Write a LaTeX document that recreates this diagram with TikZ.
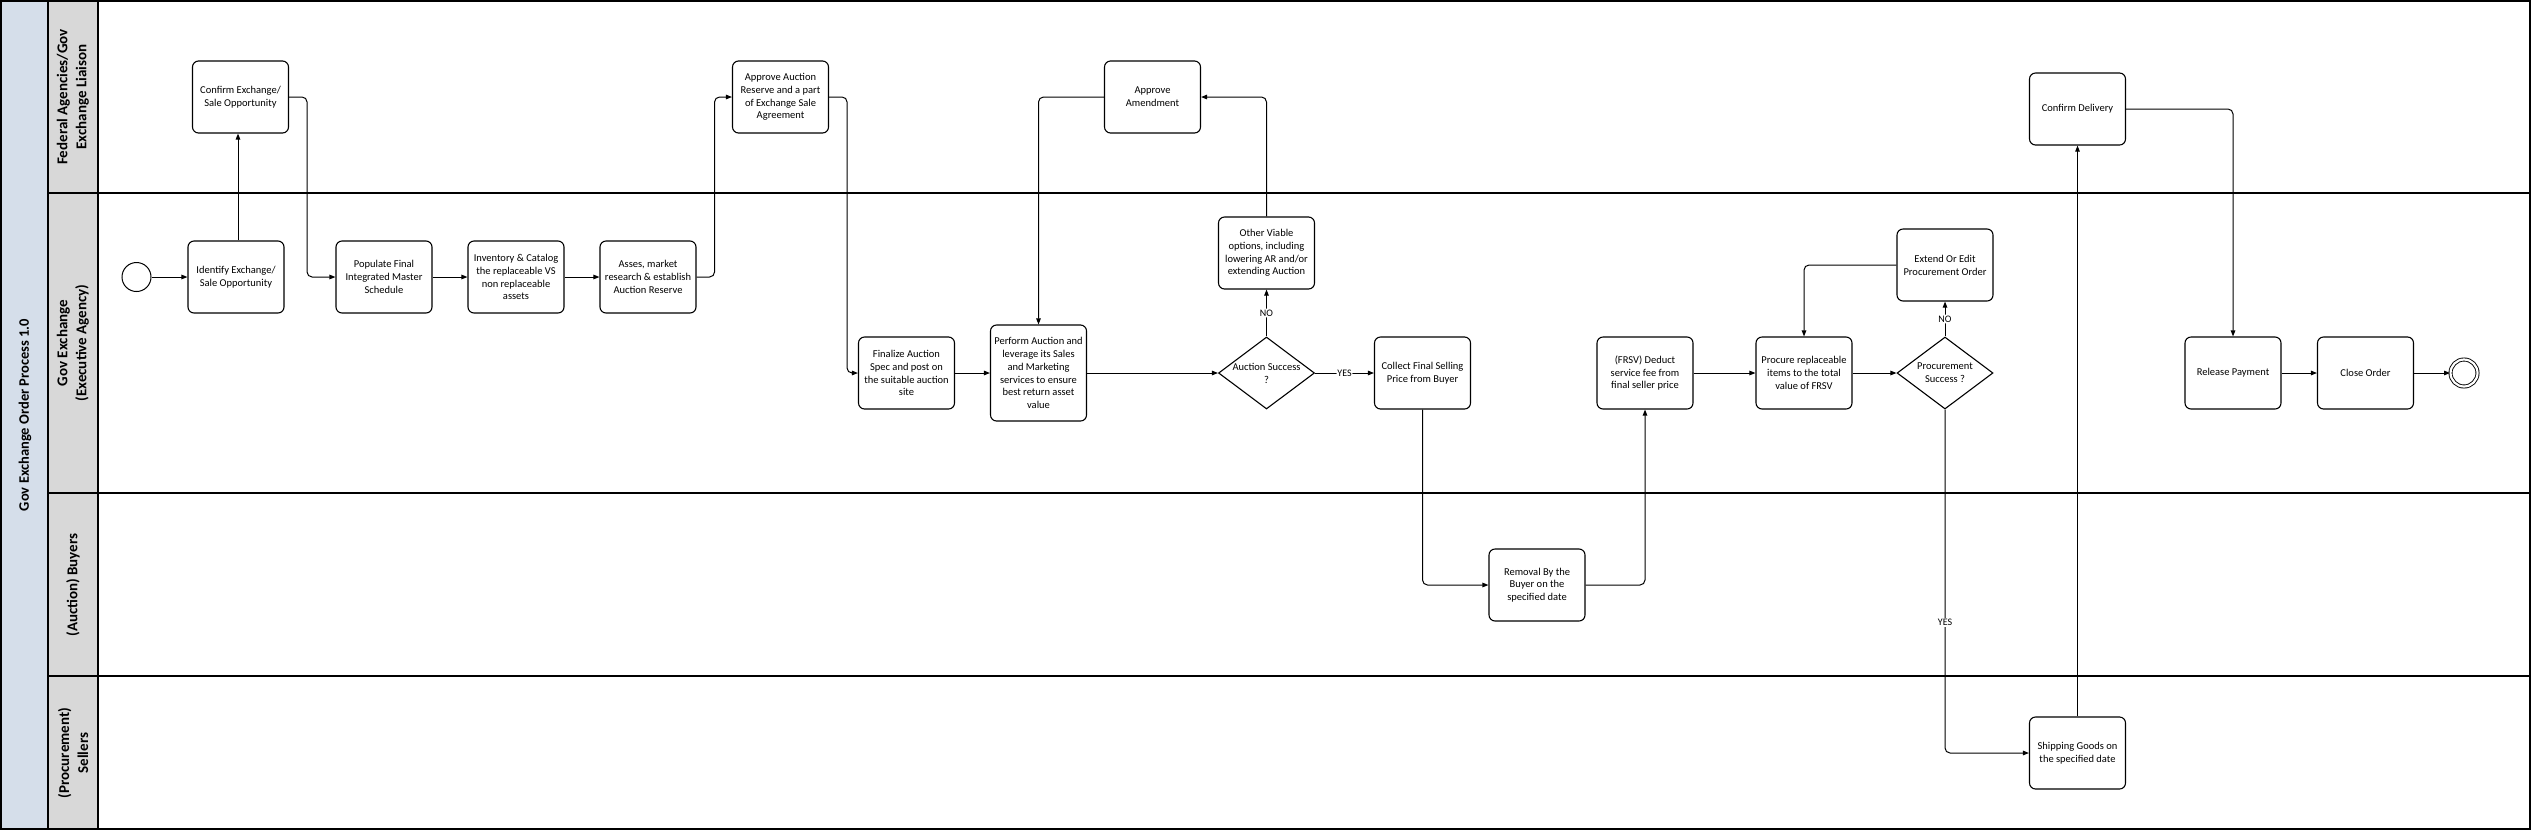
\documentclass[tikz,border=0pt]{standalone}
\usepackage{fontspec}
\setmainfont{Carlito}
\usetikzlibrary{arrows.meta,shapes.geometric,calc}
\definecolor{titleblue}{HTML}{D5DEEA}
\definecolor{hdrgrey}{HTML}{D8D8D8}
\begin{document}
\begin{tikzpicture}[x=1pt,y=-1pt,
  task/.style={draw, line width=1.1pt, rounded corners=6pt, minimum width=96pt, minimum height=72pt, align=center, inner sep=2pt, font=\fontsize{10.5}{12.8}\selectfont, fill=white},
  gate/.style={draw, diamond, line width=1.1pt, minimum width=96pt, minimum height=72pt, inner sep=0pt},
  gatetext/.style={align=center, font=\fontsize{10.5}{12.8}\selectfont, inner sep=0pt},
  flow/.style={line width=1pt, rounded corners=5pt, -{Triangle[length=6pt,width=4.5pt]}},
  lbl/.style={fill=white, inner sep=1pt, font=\fontsize{10}{12}\selectfont},
  lane/.style={line width=1.2pt},
  lanetext/.style={rotate=90, align=center, font=\fontsize{15}{19}\selectfont\bfseries},
]
\useasboundingbox (0,0) rectangle (2534,831);
% pool background
\fill[titleblue] (1,1) rectangle (48,829);
\fill[hdrgrey] (48,1) rectangle (98,829);
\draw[lane] (1,1) rectangle (2530,829);
\draw[lane] (48,1) -- (48,829);
\draw[lane] (98,1) -- (98,829);
\draw[lane] (48,193) -- (2530,193);
\draw[lane] (48,493) -- (2530,493);
\draw[lane] (48,676) -- (2530,676);
% titles
\node[lanetext, font=\fontsize{14.5}{18}\selectfont\bfseries] (pooltitle) at (25,415) {Gov Exchange Order Process 1.0};
\node[lanetext] (l1) at (73,97) {Federal Agencies/Gov\\Exchange Liaison};
\node[lanetext] (l2) at (73,343) {Gov Exchange\\(Executive Agency)};
\node[lanetext] (l3) at (73,585) {(Auction) Buyers};
\node[lanetext] (l4) at (73,753) {(Procurement)\\Sellers};
% nodes
\node[circle, draw, line width=1pt, minimum size=29pt, inner sep=0pt] (start) at (136.5,277) {};
\node[task] (ident) at (236,277) {Identify Exchange/\\Sale Opportunity};
\node[task] (conf) at (240.5,97) {Confirm Exchange/\\Sale Opportunity};
\node[task] (pop) at (384,277) {Populate Final\\Integrated Master\\Schedule};
\node[task] (inv) at (516,277) {Inventory \& Catalog\\the replaceable VS\\non replaceable\\assets};
\node[task] (asses) at (648,277) {Asses, market\\research \& establish\\Auction Reserve};
\node[task] (aar) at (780.5,97) {Approve Auction\\Reserve and a part\\of Exchange Sale\\Agreement};
\node[task] (fin) at (906.5,373) {Finalize Auction\\Spec and post on\\the suitable auction\\site};
\node[task, minimum height=96pt] (perf) at (1038.5,373) {Perform Auction and\\leverage its Sales\\and Marketing\\services to ensure\\best return asset\\value};
\node[task] (amend) at (1152.5,97) {Approve\\Amendment};
\node[task] (ovo) at (1266.5,253) {Other Viable\\options, including\\lowering AR and/or\\extending Auction};
\node[gate] (d1) at (1266.5,373) {};
\node[gatetext] (d1t) at (1266.5,373) {Auction Success\\?};
\node[task] (coll) at (1422.5,373) {Collect Final Selling\\Price from Buyer};
\node[task] (rem) at (1537,585) {Removal By the\\Buyer on the\\specified date};
\node[task] (frsv) at (1645,373) {(FRSV) Deduct\\service fee from\\final seller price};
\node[task] (proc) at (1804,373) {Procure replaceable\\items to the total\\value of FRSV};
\node[gate] (d2) at (1945,373) {};
\node[gatetext] (d2t) at (1945,373) {Procurement\\Success ?};
\node[task] (ext) at (1945,265) {Extend Or Edit\\Procurement Order};
\node[task] (cdel) at (2077.5,109) {Confirm Delivery};
\node[task] (ship) at (2077.5,753) {Shipping Goods on\\the specified date};
\node[task] (rel) at (2233,373) {Release Payment};
\node[task] (close) at (2365.5,373) {Close Order};
\node[circle, draw, double, double distance=2.2pt, line width=0.9pt, minimum size=27pt, inner sep=0pt] (end) at (2464,373) {};
% connectors
\draw[flow] (start) -- (ident);
\draw[flow] ([xshift=2pt]ident.north) -- ([xshift=-2.5pt]conf.south);
\draw[flow] (conf.east) -- ++(18,0) |- (pop.west);
\draw[flow] (pop) -- (inv);
\draw[flow] (inv) -- (asses);
\draw[flow] (asses.east) -- ++(18,0) |- (aar.west);
\draw[flow] (aar.east) -- ++(18,0) |- (fin.west);
\draw[flow] (fin) -- (perf);
\draw[flow] (perf) -- (d1.west);
\draw[flow] (d1.north) -- node[lbl] (no1) {NO} (ovo.south);
\draw[flow] (ovo.north) |- (amend.east);
\draw[flow] (amend.west) -| (perf.north);
\draw[flow] (d1.east) -- node[lbl] (yes1) {YES} (coll.west);
\draw[flow] (coll.south) |- (rem.west);
\draw[flow] (rem.east) -| (frsv.south);
\draw[flow] (frsv) -- (proc);
\draw[flow] (proc) -- (d2.west);
\draw[flow] (d2.north) -- node[lbl] (no2) {NO} (ext.south);
\draw[flow] (ext.west) -| (proc.north);
\draw[flow] (d2.south) |- node[lbl, pos=0.31] (yes2) {YES} (ship.west);
\draw[flow] (ship) -- (cdel);
\draw[flow] (cdel.east) -| (rel.north);
\draw[flow] (rel) -- (close);
\draw[flow] (close) -- (end);
\end{tikzpicture}
\end{document}
